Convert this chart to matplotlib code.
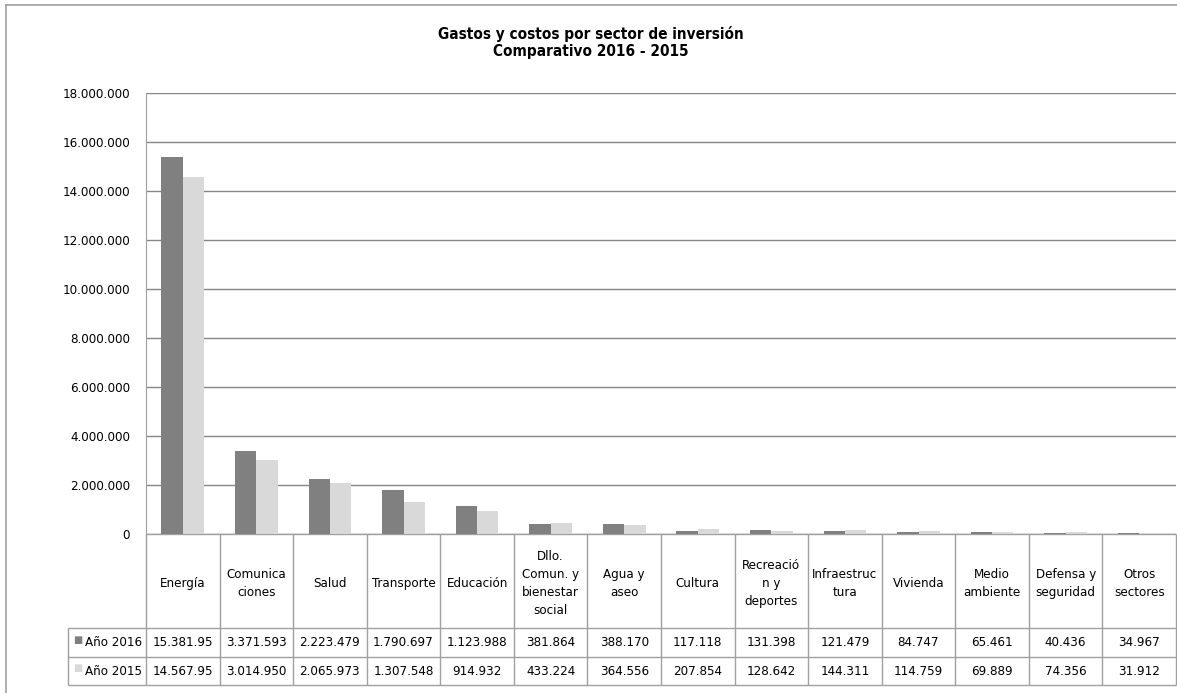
import matplotlib
matplotlib.use("Agg")
import matplotlib.pyplot as plt
from matplotlib import font_manager
from matplotlib.lines import Line2D
from matplotlib.ticker import FuncFormatter
import numpy as np

# fuente angosta tipo Arial Narrow si existe
fuentes = font_manager.fontManager.ttflist
names = set(f.name for f in fuentes)
condensada = [f for f in fuentes if f.name == 'DejaVu Sans' and f.stretch == 'condensed']
if 'Liberation Sans Narrow' in names:
    plt.rcParams['font.family'] = ['Liberation Sans Narrow', 'DejaVu Sans']
    fs = 11
elif condensada:
    plt.rcParams['font.family'] = ['DejaVu Sans']
    plt.rcParams['font.stretch'] = 'condensed'
    fs = 9.5
else:
    plt.rcParams['font.family'] = ['Liberation Sans', 'DejaVu Sans']
    fs = 10

# datos
sectores = ['Energía', 'Comunica\nciones', 'Salud', 'Transporte', 'Educación',
            'Dllo.\nComun. y\nbienestar\nsocial', 'Agua y\naseo', 'Cultura',
            'Recreació\nn y\ndeportes', 'Infraestruc\ntura', 'Vivienda',
            'Medio\nambiente', 'Defensa y\nseguridad', 'Otros\nsectores']
valores_2016 = [15381950, 3371593, 2223479, 1790697, 1123988, 381864, 388170,
                117118, 131398, 121479, 84747, 65461, 40436, 34967]
valores_2015 = [14567950, 3014950, 2065973, 1307548, 914932, 433224, 364556,
                207854, 128642, 144311, 114759, 69889, 74356, 31912]
texto_2016 = ['15.381.95', '3.371.593', '2.223.479', '1.790.697', '1.123.988', '381.864',
              '388.170', '117.118', '131.398', '121.479', '84.747', '65.461', '40.436', '34.967']
texto_2015 = ['14.567.95', '3.014.950', '2.065.973', '1.307.548', '914.932', '433.224',
              '364.556', '207.854', '128.642', '144.311', '114.759', '69.889', '74.356', '31.912']
series = ['Año 2016', 'Año 2015']
colores = ['#808080', '#d9d9d9']

fig = plt.figure(figsize=(11.77, 6.93), dpi=100)
ax = fig.add_axes([146/1177, 1-533.7/693, 1030/1177, 441/693])

x = np.arange(len(sectores))
w = 0.29
ax.bar(x - w/2, valores_2016, width=w, color=colores[0], zorder=3)
ax.bar(x + w/2, valores_2015, width=w, color=colores[1], zorder=3)

ax.set_xlim(-0.5, len(sectores) - 0.5)
ax.set_ylim(0, 18000000)
ax.set_yticks(np.arange(0, 18000001, 2000000))
ax.yaxis.set_major_formatter(FuncFormatter(lambda v, p: f'{int(v):,}'.replace(',', '.')))
ax.tick_params(axis='y', length=0, pad=11.5, labelsize=fs)
ax.set_xticks([])
ax.grid(axis='y', color='#868686', linewidth=1, zorder=0)
for s in ['top', 'right', 'bottom']:
    ax.spines[s].set_visible(False)
ax.spines['left'].set_color('#a0a0a0')

fig.text(591/1177, 1-42.5/693, 'Gastos y costos por sector de inversión\nComparativo 2016 - 2015',
         ha='center', va='center', fontsize=fs + 1.5, fontweight='bold', linespacing=1.15)

# tabla de datos bajo el eje
tr = ax.get_xaxis_transform()
lc = '#a0a0a0'
y_top, y_hdr, y_mid, y_bot = 0, -0.2138, -0.2796, -0.3431
x_lab = -0.5 - 78/73.57
x_end = len(sectores) - 0.5
ax.hlines([y_top, y_hdr], -0.5, x_end, color=lc, lw=1, transform=tr, clip_on=False)
ax.hlines([y_mid, y_bot], x_lab, x_end, color=lc, lw=1, transform=tr, clip_on=False)
ax.hlines([y_hdr], x_lab, -0.5, color=lc, lw=1, transform=tr, clip_on=False)
ax.vlines(np.arange(-0.5, x_end + 0.01, 1), y_bot, y_top, color=lc, lw=1, transform=tr, clip_on=False)
ax.vlines([x_lab], y_bot, y_hdr, color=lc, lw=1, transform=tr, clip_on=False)

for i, s in enumerate(sectores):
    ax.text(i, (y_top + y_hdr)/2 - 0.006, s, transform=tr, ha='center', va='center',
            fontsize=fs, linespacing=1.5)
    ax.text(i, (y_hdr + y_mid)/2, texto_2016[i], transform=tr, ha='center', va='center', fontsize=fs)
    ax.text(i, (y_mid + y_bot)/2, texto_2015[i], transform=tr, ha='center', va='center', fontsize=fs)

for nombre, col, y0, y1 in [(series[0], colores[0], y_hdr, y_mid), (series[1], colores[1], y_mid, y_bot)]:
    yc = (y0 + y1)/2
    ax.text(-0.5 - 4/73.57, yc, nombre, transform=tr, ha='right', va='center', fontsize=fs)
    ax.text(x_lab + 5/73.57, yc + 0.006, '■', transform=tr, ha='left', va='center',
            fontsize=7, color=col, family='DejaVu Sans', stretch='normal')

# marco del gráfico
fig.add_artist(Line2D([6/1177, 1], [1-4.5/693, 1-4.5/693], color='#a0a0a0', lw=1.2))
fig.add_artist(Line2D([6/1177, 6/1177], [0, 1-4.5/693], color='#a0a0a0', lw=1.2))

fig.savefig('out.png', dpi=100)
